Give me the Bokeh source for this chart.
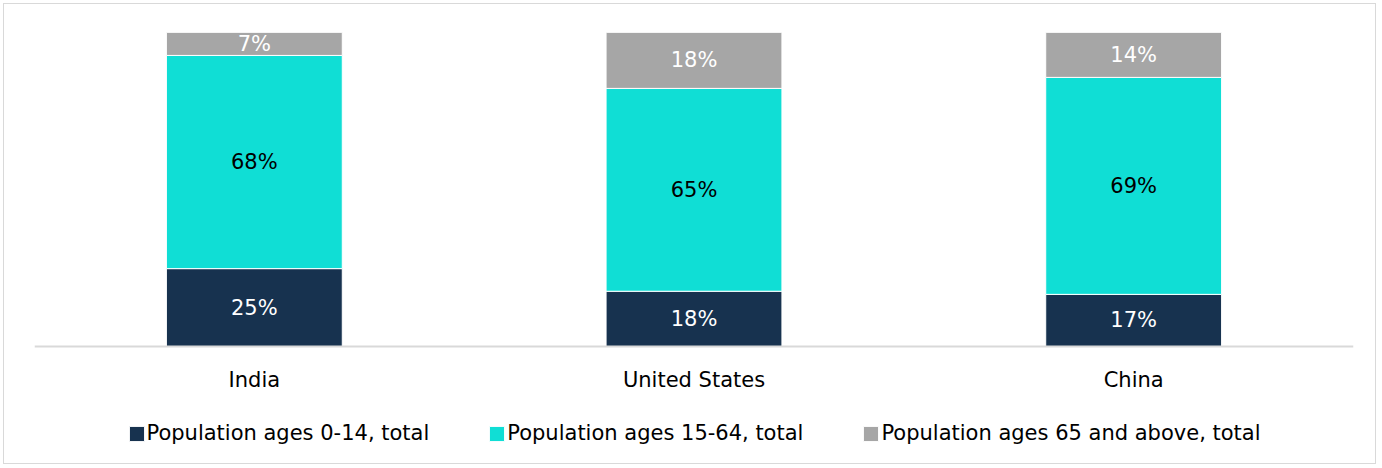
from bokeh.plotting import figure
from bokeh.models import Range1d, FactorRange, Legend, LegendItem, ColumnDataSource
from bokeh.core.properties import value
from bokeh.embed import file_html
from bokeh.resources import INLINE

countries = ["India", "United States", "China"]
ages_0_14 = [24.8, 17.6, 16.6]
ages_15_64 = [67.9, 64.6, 69.1]
ages_65_plus = [7.3, 17.8, 14.3]
series_names = ["Population ages 0-14, total", "Population ages 15-64, total",
                "Population ages 65 and above, total"]
colors = ["#17324F", "#10DED5", "#A6A6A6"]
label_colors = ["white", "black", "white"]

FONT = "DejaVu Sans"
FS = "21px"

# layout (canvas pixels): frame top, baseline of bars, frame bottom
TOP, BASE, BOTTOM = 28, 342, 461
y_min = -100.0 * (BOTTOM - BASE) / (BASE - TOP)

data = {"country": countries, "a": ages_0_14, "b": ages_15_64, "c": ages_65_plus}
src = ColumnDataSource(data)

p = figure(x_range=FactorRange(*countries), y_range=Range1d(y_min, 100),
           width=1373, height=461, output_backend="svg", toolbar_location=None,
           min_border_left=30, min_border_right=24, min_border_top=TOP, min_border_bottom=0)
p.styles = {"border": "1px solid #D9D9D9", "margin-left": "3px", "margin-top": "3px"}

renderers = p.vbar_stack(["a", "b", "c"], x="country", width=0.4, color=colors,
                         line_color="white", line_width=1, source=src)

series = [ages_0_14, ages_15_64, ages_65_plus]
bottoms = [0.0] * len(countries)
for vals, tc in zip(series, label_colors):
    mids = [b + v / 2 for b, v in zip(bottoms, vals)]
    texts = [f"{v:.0f}%" for v in vals]
    p.text(x=countries, y=mids, text=texts, text_align="center", text_baseline="middle",
           text_color=tc, text_font=value(FONT), text_font_size=FS)
    bottoms = [b + v for b, v in zip(bottoms, vals)]

p.yaxis.visible = False
p.xgrid.visible = False
p.ygrid.visible = False
p.outline_line_color = None
p.xaxis.fixed_location = 0
p.xaxis.axis_line_color = "#D9D9D9"
p.xaxis.axis_line_width = 2
p.xaxis.major_tick_line_color = None
p.xaxis.minor_tick_line_color = None
p.xaxis.major_label_standoff = 15
p.xaxis.major_label_text_font = FONT
p.xaxis.major_label_text_font_size = FS
p.xaxis.major_label_text_color = "black"

legend = Legend(items=[LegendItem(label=n, renderers=[r]) for n, r in zip(series_names, renderers)],
                orientation="horizontal", location="bottom_center", spacing=58, label_standoff=1,
                glyph_width=19, glyph_height=19, label_text_font=FONT,
                label_text_font_size=FS, label_text_color="black",
                border_line_color=None, background_fill_alpha=0, padding=0, margin=20)
p.add_layout(legend, "center")

open("out.html", "w").write(file_html(p, INLINE))
